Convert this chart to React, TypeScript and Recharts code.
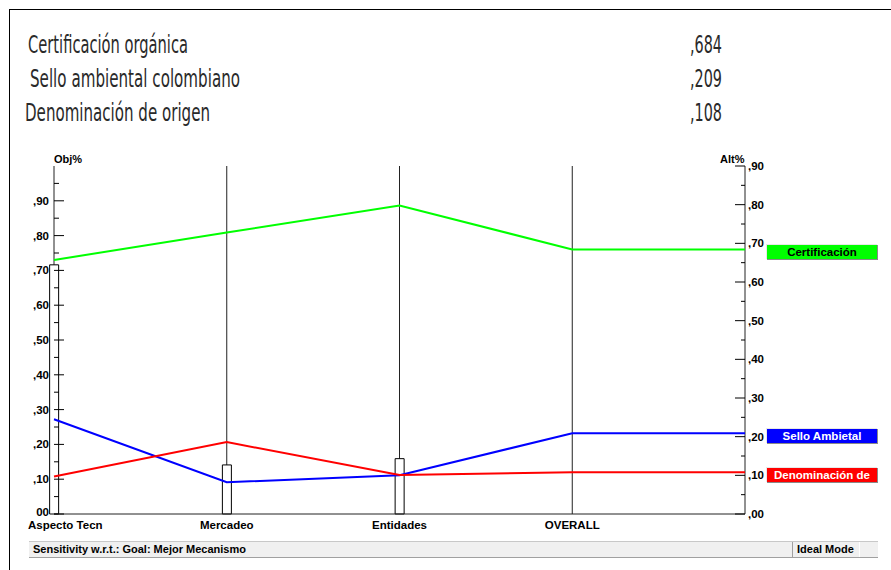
import React from "react"
import { ComposedChart, Bar, Line, XAxis, YAxis, CartesianGrid } from "recharts"

// performance sensitivity: objectives along x, alternatives on the right axis
const categories = ["Aspecto Tecn", "Mercadeo", "Entidades", "OVERALL", ""]
const objWeights = [0.716, 0.141, 0.159, null, null]
const certificacion = [0.657, 0.728, 0.798, 0.684, 0.684]
const selloAmbiental = [0.245, 0.082, 0.1, 0.209, 0.209]
const denominacion = [0.097, 0.186, 0.101, 0.108, 0.108]

const summaryNames = ["Certificación orgánica", "Sello ambiental colombiano", "Denominación de origen"]
const summaryValues = [",684", ",209", ",108"]

const xTicks = [0, 1, 2, 3, 4]
const objTicks = [0, 0.05, 0.1, 0.15, 0.2, 0.25, 0.3, 0.35, 0.4, 0.45, 0.5, 0.55, 0.6, 0.65, 0.7, 0.75, 0.8, 0.85, 0.9, 0.95, 1]
const altTicks = [0, 0.05, 0.1, 0.15, 0.2, 0.25, 0.3, 0.35, 0.4, 0.45, 0.5, 0.55, 0.6, 0.65, 0.7, 0.75, 0.8, 0.85, 0.9]

const data = categories.map((name, i) => ({
  x: i,
  name,
  obj: objWeights[i],
  cert: certificacion[i],
  sello: selloAmbiental[i],
  den: denominacion[i],
}))

const uiFont = "'Liberation Sans', Arial, sans-serif"
const headFont = "'Liberation Sans Narrow', 'DejaVu Sans Condensed', sans-serif"

const isMajor = (v: number) => Math.abs(Math.round(v * 10) - v * 10) < 1e-6
const fmt = (v: number) => "," + String(Math.round(v * 100)).padStart(2, "0")

const LeftTick = (props: any) => {
  const { x, y, payload } = props
  const v = payload.value
  if (v >= 0.999) return null
  const major = isMajor(v)
  return (
    <g>
      <line x1={x} x2={x + (major ? 10 : 5)} y1={y} y2={y} stroke="#000" />
      {major && (
        <text x={x - 5} y={v === 0 ? y + 2 : y + 4} textAnchor="end" fontSize={11.5} fontWeight="bold" fontFamily={uiFont} fill="#000">
          {v === 0 ? "00" : fmt(v)}
        </text>
      )}
    </g>
  )
}

const RightTick = (props: any) => {
  const { x, y, payload } = props
  const v = payload.value
  const major = isMajor(v)
  return (
    <g>
      <line x1={x - (major ? 10 : 4)} x2={x} y1={y} y2={y} stroke="#000" />
      {major && (
        <text x={x + 3} y={y + 4} textAnchor="start" fontSize={11.5} fontWeight="bold" fontFamily={uiFont} fill="#000">
          {fmt(v)}
        </text>
      )}
    </g>
  )
}

const XTick = (props: any) => {
  const { x, y, payload } = props
  const i = payload.value
  const label = categories[i]
  if (!label) return null
  return (
    <text x={i === 0 ? x - 26 : x} y={y + 15} textAnchor={i === 0 ? "start" : "middle"} fontSize={11.5} fontWeight="bold" fontFamily={uiFont} fill="#000">
      {label}
    </text>
  )
}

const legendBox = (top: number, bg: string, color: string, text: string) => (
  <div
    style={{
      position: "absolute", left: 766, top, width: 110, height: 14, background: bg, color,
      borderTop: "1px solid #e8e8e8", borderLeft: "1px solid #e8e8e8",
      boxShadow: "1px 1px 0 #8a8a8a", font: `bold 11.5px ${uiFont}`, lineHeight: "14px", textAlign: "center",
    }}
  >
    {text}
  </div>
)

export default function App() {
  return (
    <div style={{ position: "fixed", left: 0, top: 0, width: 891, height: 570, background: "#fff", overflow: "hidden" }}>
      {/* window frame */}
      <div style={{ position: "absolute", left: 9, top: 9, width: 900, height: 600, borderTop: "1px solid #000", borderLeft: "1px solid #000" }} />

      <svg style={{ position: "absolute", left: 0, top: 0 }} width={891} height={140}>
        {summaryNames.map((n, i) => (
          <text key={n} x={[28, 30, 25][i]} y={53 + i * 34} fontSize={24} fontFamily={headFont}
            fill="#2a2a2a" textLength={[160, 210, 185][i]} lengthAdjust="spacingAndGlyphs">
            {n}
          </text>
        ))}
        {summaryValues.map((v, i) => (
          <text key={v} x={690} y={53 + i * 34} fontSize={24} fontFamily={headFont}
            fill="#2a2a2a" textLength={32} lengthAdjust="spacingAndGlyphs">
            {v}
          </text>
        ))}
      </svg>

      <div style={{ position: "absolute", left: 0, top: 0 }}>
        <ComposedChart width={891} height={570} data={data} margin={{ top: 166, right: 106, bottom: 26, left: 14 }}>
          <CartesianGrid yAxisId="left" horizontal={false} stroke="#222" />
          <XAxis dataKey="x" type="number" domain={[0, 4]} ticks={xTicks} interval={0} height={30}
            axisLine={{ stroke: "#222" }} tickLine={false} tickSize={0} tickMargin={0} tick={<XTick />} />
          <XAxis xAxisId="top" orientation="top" type="number" domain={[0, 4]} height={0}
            axisLine={{ stroke: "#222" }} tickLine={false} tick={false} />
          <YAxis yAxisId="left" orientation="left" type="number" domain={[0, 1]} ticks={objTicks} interval={0} width={40}
            axisLine={false} tickLine={false} tickSize={0} tickMargin={0} tick={<LeftTick />} />
          <YAxis yAxisId="right" orientation="right" type="number" domain={[0, 0.9]} ticks={altTicks} interval={0} width={40}
            axisLine={false} tickLine={false} tickSize={0} tickMargin={0} tick={<RightTick />} />
          <Bar yAxisId="left" dataKey="obj" barSize={9} fill="#fff" stroke="#000" strokeWidth={1} isAnimationActive={false} />
          <Line yAxisId="right" type="linear" dataKey="cert" stroke="#00ff00" strokeWidth={2} dot={false} isAnimationActive={false} />
          <Line yAxisId="right" type="linear" dataKey="sello" stroke="#0000ff" strokeWidth={2} dot={false} isAnimationActive={false} />
          <Line yAxisId="right" type="linear" dataKey="den" stroke="#ff0000" strokeWidth={2} dot={false} isAnimationActive={false} />
        </ComposedChart>
      </div>

      <div style={{ position: "absolute", left: 54, top: 153, font: `bold 11px ${uiFont}` }}>Obj%</div>
      <div style={{ position: "absolute", left: 720, top: 153, font: `bold 11px ${uiFont}` }}>Alt%</div>

      {legendBox(244, "#00ff00", "#000", "Certificación")}
      {legendBox(428, "#0000ff", "#fff", "Sello Ambietal")}
      {legendBox(467, "#ff0000", "#fff", "Denominación de")}

      {/* status bar */}
      <div style={{ position: "absolute", left: 29, top: 541, width: 849, height: 15, background: "#f0f0f0", borderTop: "1px solid #c8c8c8", borderBottom: "1px solid #a0a0a0" }}>
        <div style={{ position: "absolute", left: 4, top: 1, font: `bold 11px ${uiFont}`, color: "#000" }}>Sensitivity w.r.t.: Goal: Mejor Mecanismo</div>
        <div style={{ position: "absolute", left: 763, top: 0, width: 66, height: 15, borderLeft: "1px solid #a0a0a0", borderRight: "1px solid #fff" }}>
          <div style={{ position: "absolute", left: 4, top: 1, font: `bold 11px ${uiFont}`, color: "#000" }}>Ideal Mode</div>
        </div>
      </div>
    </div>
  )
}
